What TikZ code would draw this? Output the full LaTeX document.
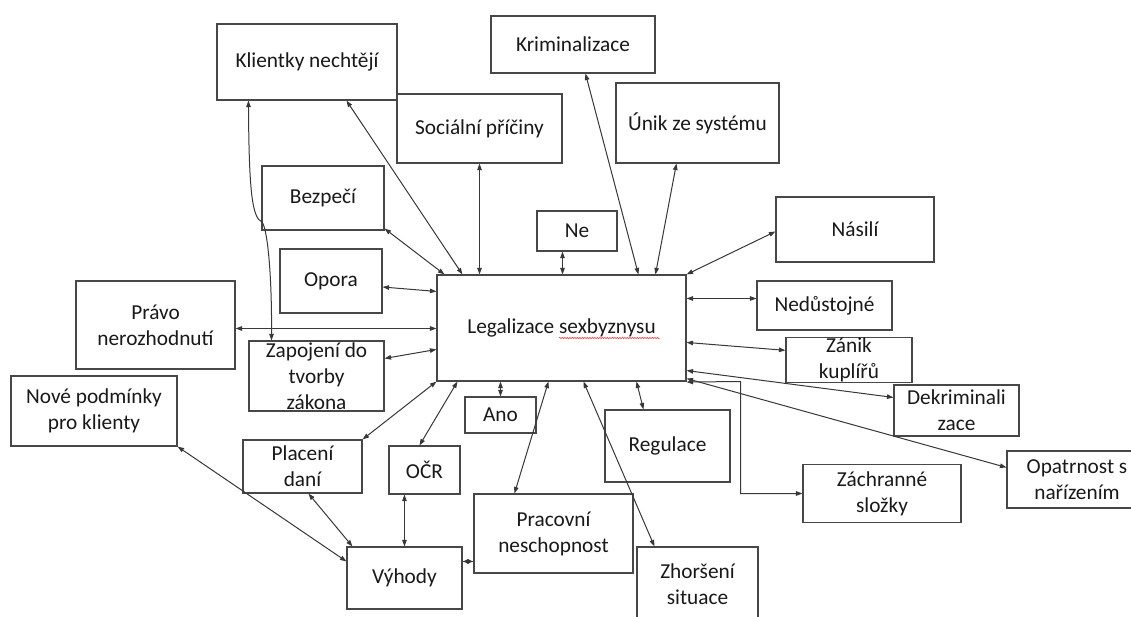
\documentclass[tikz,border=0pt]{standalone}
\usepackage{fontspec}
\setmainfont{Carlito}
\usetikzlibrary{arrows.meta,decorations.pathmorphing}
\begin{document}
\begin{tikzpicture}[x=1pt,y=-1pt,
  every node/.style={font=\fontsize{21.3}{26}\selectfont},
  box/.style={draw=black!72,line width=1.1pt,rectangle,inner sep=0pt,align=center,text=black!90},
  conn/.style={draw=black!78,line width=1pt,{Triangle[length=6.5pt,width=4.5pt]}-{Triangle[length=6.5pt,width=4.5pt]}}]
\useasboundingbox (0,0) rectangle (1131,617);
\clip (0,0) rectangle (1131,617);
\fill[white] (0,0) rectangle (1131,617);
% boxes
\node[box,minimum width=180,minimum height=76] (kl) at (307,62) {Klientky nechtějí};
\node[box,minimum width=165,minimum height=69] (soc) at (479.5,128.5) {Sociální příčiny};
\node[box,minimum width=164,minimum height=57] (krim) at (573,44.5) {Kriminalizace};
\node[box,minimum width=163,minimum height=80] (unik) at (697.5,123) {Únik ze systému};
\node[box,minimum width=80,minimum height=40] (ne) at (577,231) {Ne};
\node[box,minimum width=249,minimum height=106] (leg) at (561.5,328) {Legalizace sexbyznysu};
\node[box,minimum width=122,minimum height=64] (bez) at (323,198) {Bezpečí};
\node[box,minimum width=102,minimum height=64] (opora) at (331,281) {Opora};
\node[box,minimum width=159,minimum height=88] (pravo) at (155.5,325) {Právo\\nerozhodnutí};
\node[box,minimum width=135,minimum height=70] (zap) at (316.5,376) {Zapojení do\\tvorby\\zákona};
\node[box,minimum width=166,minimum height=70] (nove) at (94,411) {Nové podmínky\\pro klienty};
\node[box,minimum width=119,minimum height=53] (plac) at (302.5,466.5) {Placení\\daní};
\node[box,minimum width=71,minimum height=48] (ocr) at (424.5,470) {OČR};
\node[box,minimum width=115,minimum height=62] (vyh) at (404.5,578) {Výhody};
\node[box,minimum width=71,minimum height=36] (ano) at (500.5,415) {Ano};
\node[box,minimum width=159,minimum height=79] (prac) at (553.5,533.5) {Pracovní\\neschopnost};
\node[box,minimum width=125,minimum height=72] (reg) at (667.5,446) {Regulace};
\node[box,minimum width=121,minimum height=74] (zhor) at (697.5,584) {Zhoršení\\situace};
\node[box,minimum width=158,minimum height=65] (nas) at (855,229.5) {Násilí};
\node[box,minimum width=135,minimum height=49] (ned) at (824.5,305.5) {Nedůstojné};
\node[box,minimum width=126,minimum height=38] (zan) at (849,360) {Zánik\\kuplířů};
\node[box,minimum width=125,minimum height=51] (dek) at (956.5,410.5) {Dekriminali\\zace};
\node[box,minimum width=140,minimum height=57] (opat) at (1077,479.5) {Opatrnost s\\nařízením};
\node[box,minimum width=158,minimum height=58] (zach) at (882,493.5) {Záchranné\\složky};
% spelling underline
\draw[red!80,line width=0.5pt,decorate,decoration={snake,amplitude=0.7pt,segment length=2.5pt}] (559,338) -- (660,338);
% connectors
\draw[conn] ([xshift=130]kl.south west) -- ([xshift=26]leg.north west);
\draw[conn] ([xshift=32]kl.south west) .. controls (249,190) and (252,218) .. (262,222)
   .. controls (268,230) and (272,280) .. ([xshift=23]zap.north west);
\draw[conn] (soc.south) -- (soc.south |- leg.north);
\draw[conn] ([xshift=95]krim.south west) -- ([xshift=202]leg.north west);
\draw[conn] ([xshift=61]unik.south west) -- ([xshift=219]leg.north west);
\draw[conn] ([xshift=-14.5]ne.south) -- ([xshift=-14.5]ne.south |- leg.north);
\draw[conn] ([yshift=-2]nas.west) -- (leg.north east);
\draw[conn] ([yshift=2]bez.south east) -- ([xshift=8]leg.north west);
\draw[conn] ([yshift=-6]opora.east) -- ([yshift=-17]leg.north west);
\draw[conn] ([yshift=-0.5]leg.west -| pravo.east) -- ([yshift=-0.5]leg.west);
\draw[conn] ([yshift=-18]zap.north east) -- ([yshift=-75]leg.north west);
\draw[conn] (plac.north east) -- (leg.south west);
\draw[conn] ([xshift=31]ocr.north west) -- ([xshift=21]leg.south west);
\draw[conn] (ano.north) -- (ano.north |- leg.south);
\draw[conn] ([xshift=41]prac.north west) -- ([xshift=112]leg.south west);
\draw[conn] ([xshift=18]zhor.north west) -- ([xshift=147]leg.south west);
\draw[conn] ([xshift=39]reg.north west) -- ([xshift=200]leg.south west);
\draw[conn] ([yshift=-0.5]leg.south east) -- (740.5,381.5) |- (zach.west);
\draw[conn] ([yshift=-17]opat.north west) -- ([yshift=3]leg.south east);
\draw[conn] ([yshift=-13]dek.north west) -- ([yshift=11]leg.south east);
\draw[conn] ([yshift=-13]zan.north west) -- ([yshift=-68]leg.north east);
\draw[conn] ([yshift=7]ned.west) -- ([yshift=7]ned.west -| leg.east);
\draw[conn] (nove.south east) -- ([yshift=-15]vyh.north west);
\draw[conn] ([xshift=66]plac.south west) -- ([xshift=6]vyh.north west);
\draw[conn] ([xshift=16]ocr.south west) -- ([xshift=16]ocr.south west |- vyh.north);
\draw[conn] ([yshift=-68]prac.north west) -- ([yshift=-15]vyh.north east);
\end{tikzpicture}
\end{document}
